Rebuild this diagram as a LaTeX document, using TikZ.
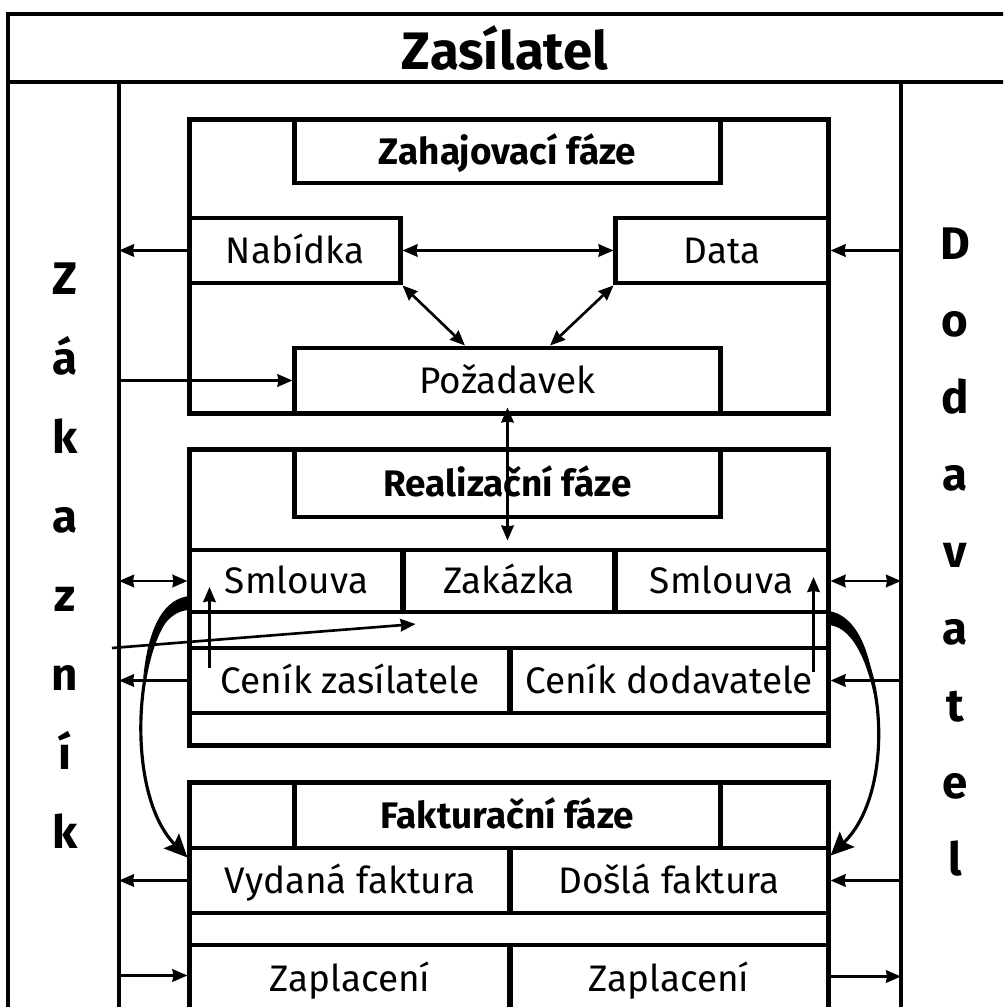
\documentclass[tikz,border=0pt]{standalone}
\usepackage{fontspec}
\setmainfont{Fira Sans}
\usetikzlibrary{arrows.meta,positioning}
\tikzset{
  frameline/.style={line width=1.4pt,draw=black},
  cellbox/.style={draw=black,line width=1.4pt,inner sep=0pt,align=center,text height=7.2pt,text depth=0pt,font=\fontsize{10.5}{12}\selectfont},
  phasebox/.style={cellbox,font=\fontsize{10.5}{12}\selectfont\bfseries},
  sideword/.style={align=center,inner sep=0pt},
  flowarrow/.style={-{Stealth[length=1.5mm,width=1.25mm,inset=0.1mm]},line width=0.75pt},
  botharrow/.style={{Stealth[length=1.5mm,width=1.25mm,inset=0.1mm]}-{Stealth[length=1.5mm,width=1.25mm,inset=0.1mm]},line width=0.75pt},
  bendarrow/.style={-{Stealth[length=2.3mm,width=2.1mm,inset=0.4mm]},line width=0.9pt}
}
\begin{document}
\begin{tikzpicture}[x=0.01cm,y=-0.01cm]
\useasboundingbox (0,0) rectangle (1003,1007);
\clip (0,0) rectangle (1003,1007);
% frame and columns
\draw[frameline] (1012,14) -- (8,14) -- (8,1012);
\draw[frameline] (8,82) -- (1012,82);
\coordinate (Ltop) at (119,82);
\coordinate (Rtop) at (901,82);
\draw[frameline] (Ltop) -- (119,1012);
\draw[frameline] (Rtop) -- (901,1012);
\node[font=\fontsize{15}{18}\selectfont\bfseries] (zasilatel) at (505,48) {Zasílatel};
\node[sideword,font=\fontsize{13}{22.5}\selectfont\bfseries] (zakaznik) at (65,556) {Z\\á\\k\\a\\z\\n\\í\\k};
\node[sideword,font=\fontsize{13}{21.9}\selectfont\bfseries] (dodavatel) at (955,552) {D\\o\\d\\a\\v\\a\\t\\e\\l};
% Zahajovaci faze
\node[cellbox,minimum width=6.38cm,minimum height=2.93cm] (zahBlock) at (509,266.5) {};
\node[phasebox,minimum width=4.25cm,minimum height=0.63cm] (zahT) at (507.5,151.5) {Zahajovací fáze};
\node[cellbox,minimum width=2.10cm,minimum height=0.65cm] (nab) at (295,250.5) {Nabídka};
\node[cellbox,minimum width=2.12cm,minimum height=0.65cm] (data) at (722,250.5) {Data};
\node[cellbox,minimum width=4.25cm,minimum height=0.65cm] (poz) at (507.5,380.5) {Požadavek};
% Realizacni faze
\node[cellbox,minimum width=6.38cm,minimum height=2.95cm] (realBlock) at (509,597.5) {};
\node[phasebox,minimum width=4.25cm,minimum height=0.67cm] (realT) at (507.5,483.5) {Realizační fáze};
\node[cellbox,minimum width=2.13cm,minimum height=0.62cm] (smlZ) at (296.5,581) {Smlouva};
\node[cellbox,minimum width=2.12cm,minimum height=0.62cm] (zak) at (509,581) {Zakázka};
\node[cellbox,minimum width=2.13cm,minimum height=0.62cm] (smlD) at (721.5,581) {Smlouva};
\node[cellbox,minimum width=3.20cm,minimum height=0.65cm] (cenZ) at (350,680.5) {Ceník zasílatele};
\node[cellbox,minimum width=3.18cm,minimum height=0.65cm] (cenD) at (669,680.5) {Ceník dodavatele};
% Fakturacni faze
\node[cellbox,minimum width=6.38cm,minimum height=2.29cm] (faktBlock) at (509,897.5) {};
\node[phasebox,minimum width=4.25cm,minimum height=0.65cm] (faktT) at (507.5,815.5) {Fakturační fáze};
\node[cellbox,minimum width=3.20cm,minimum height=0.65cm] (vyd) at (350,880.5) {Vydaná faktura};
\node[cellbox,minimum width=3.18cm,minimum height=0.65cm] (dos) at (669,880.5) {Došlá faktura};
\node[cellbox,minimum width=3.20cm,minimum height=0.67cm] (zapZ) at (350,978.5) {Zaplacení};
\node[cellbox,minimum width=3.18cm,minimum height=0.67cm] (zapD) at (669,978.5) {Zaplacení};
% arrows
\draw[flowarrow] (nab.west) -- (Ltop |- nab.west);
\draw[flowarrow] (Rtop |- data.east) -- (data.east);
\draw[botharrow] (nab.east) -- (data.west);
\draw[botharrow] (nab.south east) -- ([xshift=-0.425cm]poz.north);
\draw[botharrow] (data.south west) -- ([xshift=0.425cm]poz.north);
\draw[flowarrow] (Ltop |- poz.west) -- (poz.west);
\draw[botharrow,shorten >=0.07cm] ([yshift=0.08cm]poz.south) -- (poz.south |- zak.north);
\draw[botharrow] (Ltop |- smlZ.west) -- (smlZ.west);
\draw[botharrow] (smlD.east) -- (Rtop |- smlD.east);
\draw[flowarrow] ([xshift=0.22cm,yshift=0.125cm]cenZ.west) -- ([xshift=0.22cm,yshift=-0.06cm]smlZ.west);
\draw[flowarrow] ([xshift=-0.17cm,yshift=0.085cm]cenD.east) -- ([xshift=-0.17cm,yshift=0.04cm]smlD.east);
\coordinate (slantS) at (112,648);
\draw[flowarrow] (slantS) -- ([xshift=0.15cm,yshift=-0.43cm]zak.west);
\draw[flowarrow] (cenZ.west) -- (Ltop |- cenZ.west);
\draw[flowarrow] (Rtop |- cenD.east) -- (cenD.east);
\draw[flowarrow] (vyd.west) -- (Ltop |- vyd.west);
\draw[flowarrow] (Rtop |- dos.east) -- (dos.east);
\draw[flowarrow] ([yshift=0.03cm]Ltop |- zapZ.west) -- ([yshift=0.03cm]zapZ.west);
\draw[flowarrow] ([yshift=0.02cm]zapD.east) -- ([yshift=0.02cm]Rtop |- zapD.east);
% curved arrows
\fill (190,596) .. controls (165,598) and (148,625) .. (143,680) .. controls (152,635) and (168,610) .. (190,610) -- cycle;
\draw[bendarrow] ([yshift=-0.22cm]smlZ.west) .. controls +(-50,9) and +(-68,-70) .. ([yshift=-0.12cm]vyd.north west);
\fill (828,611) .. controls (855,614) and (872,650) .. (875,700) .. controls (866,655) and (850,626) .. (828,625) -- cycle;
\draw[bendarrow] ([yshift=-0.36cm]smlD.east) .. controls +(52,13) and +(70,-68) .. ([yshift=-0.10cm]dos.north east);
\end{tikzpicture}
\end{document}
